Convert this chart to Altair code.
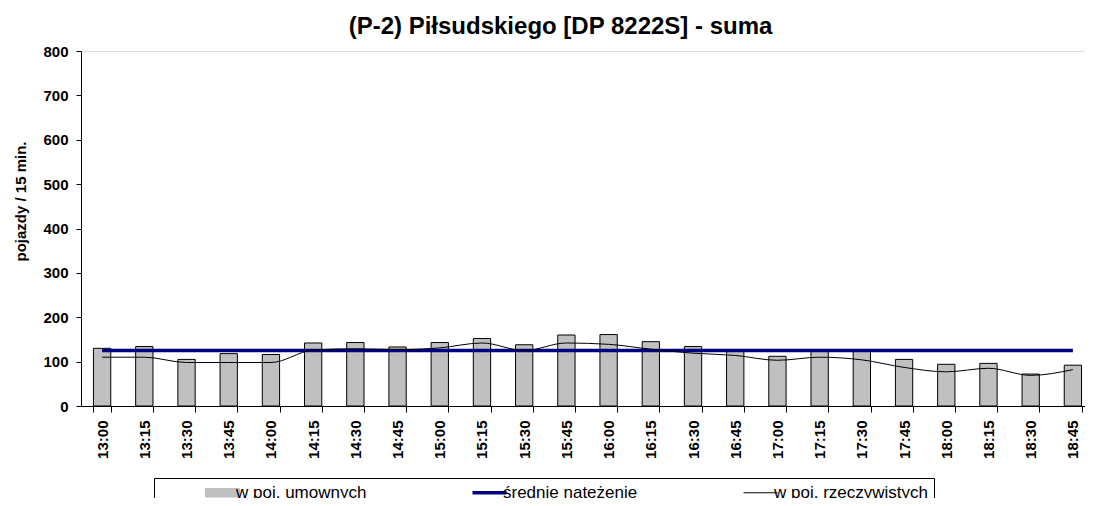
import altair as alt
import pandas as pd

times = ["13:00", "13:15", "13:30", "13:45", "14:00", "14:15", "14:30", "14:45",
         "15:00", "15:15", "15:30", "15:45", "16:00", "16:15", "16:30", "16:45",
         "17:00", "17:15", "17:30", "17:45", "18:00", "18:15", "18:30", "18:45"]
umowne = [130, 134, 105, 118, 116, 142, 143, 133, 143, 152, 138, 160,
          161, 145, 134, 124, 112, 123, 125, 105, 94, 96, 72, 92]
rzeczywiste = [110, 110, 98, 98, 98, 126, 129, 127, 131, 142, 125, 142,
               139, 128, 119, 114, 103, 110, 104, 87, 77, 85, 69, 82]
srednie = 125
series = ["w poj. umownych", "średnie natężenie", "w poj. rzeczywistych"]
colors = ["#c0c0c0", "#000080", "#000000"]

df_bars = pd.DataFrame({"czas": times, "v": umowne, "seria": series[0]})
df_mean = pd.DataFrame({"czas": times, "v": [srednie] * len(times), "seria": series[1]})
df_line = pd.DataFrame({"czas": times, "v": rzeczywiste, "seria": series[2]})

FONT = "Liberation Sans"
NBSP = "\u00a0" * 9

color_scale = alt.Scale(domain=series, range=colors)

legend = alt.Legend(
    title=None, orient="none", legendX=73, legendY=427,
    direction="horizontal", columns=3, gridAlign="each", columnPadding=60,
    padding=6, strokeColor="black", fillColor="white",
    symbolSize=1156, symbolOffset=54, labelOffset=5, labelLimit=600,
    labelFont=FONT, labelFontSize=17, labelColor="black",
    labelExpr="length(datum.label) > 18 ? datum.label + '" + NBSP + "' : datum.label",
    symbolType={"expr": "datum.index === 0 ? 'M-1,-0.25H1V0.25H-1Z' : 'stroke'"},
    symbolStrokeWidth={"expr": "datum.index === 1 ? 3.5 : 1"},
    symbolFillColor={"expr": "datum.index === 0 ? '#c0c0c0' : 'transparent'"},
    symbolStrokeColor={"expr": "datum.index === 1 ? '#000080' : '#000000'"},
    symbolOpacity=1,
)

x_enc = alt.X(
    "czas:N", sort=times,
    scale=alt.Scale(paddingInner=0.59, paddingOuter=0.295),
    axis=alt.Axis(title=None, labelAngle=270, labelFont=FONT, labelFontSize=15,
                  labelFontWeight="bold", labelColor="black", tickSize=6,
                  labelPadding=8, tickBand="extent", domainColor="black",
                  tickColor="black", labelOverlap=False, grid=False),
)
y_enc = alt.Y(
    "v:Q", scale=alt.Scale(domain=[0, 800]),
    axis=alt.Axis(title="pojazdy / 15 min.", values=list(range(0, 801, 100)),
                  labelFont=FONT, labelFontSize=15, labelFontWeight="bold",
                  labelColor="black", tickSize=5, labelPadding=8,
                  domainColor="black", tickColor="black", grid=False,
                  titleFont=FONT, titleFontSize=15, titleFontWeight="bold",
                  titleColor="black", titlePadding=14, titleY=150),
)
color_enc = alt.Color("seria:N", scale=color_scale, legend=legend)

bars = alt.Chart(df_bars).mark_bar(stroke="black", strokeWidth=1, opacity=1).encode(
    x=x_enc, y=y_enc, color=color_enc)
mean = alt.Chart(df_mean).mark_line(strokeWidth=3.5).encode(
    x=x_enc, y=y_enc, color=color_enc)
line = alt.Chart(df_line).mark_line(strokeWidth=1, interpolate="monotone").encode(
    x=x_enc, y=y_enc, color=color_enc)

chart = alt.layer(bars, mean, line).properties(
    width=1013, height=355,
    autosize=alt.AutoSizeParams(type="none"),
    padding={"left": 73, "top": 43, "right": -9, "bottom": 92},
    title=alt.TitleParams(
        text="(P-2) Piłsudskiego [DP 8222S] - suma", font=FONT, fontSize=24,
        fontWeight="bold", color="black", anchor="middle", frame="group",
        dx=-27, dy=27, offset=13, baseline="alphabetic"),
).configure_view(stroke="#808080", strokeWidth=1).configure(background="white")

chart.save("out.html", embed_options={"renderer": "svg", "actions": False})
